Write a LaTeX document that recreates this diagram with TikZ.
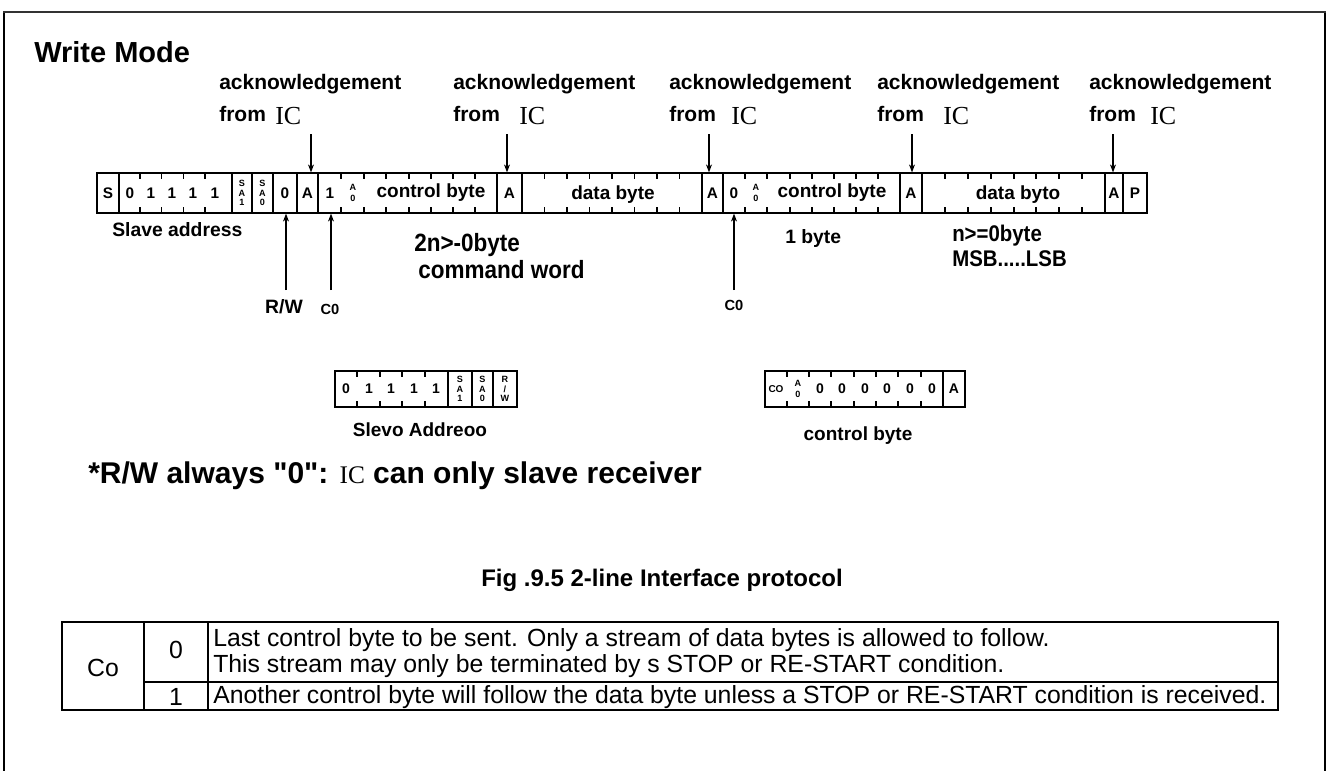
\documentclass[tikz,border=0pt]{standalone}
\usepackage{fontspec}
\setmainfont{Liberation Sans}
\newfontfamily\icfont{Liberation Serif}
\newfontfamily\plainfont{Liberation Sans}
\newfontfamily\narrowfont[FakeStretch=0.9]{Liberation Sans}
\usetikzlibrary{arrows.meta}
\newcommand\rowcell[4]{\node[rowbox, minimum width={(#3-#2)*0.75pt}] (#1) at ({(#2+#3)/2},193) {#4};}
\newcommand\lowcell[4]{\node[lowbox, minimum width={(#3-#2)*0.75pt}] (#1) at ({(#2+#3)/2},389) {#4};}
\newcommand\tks[3]{\foreach \t in {#1}{\draw[tick] (\t,#2) -- (\t,#2+6); \draw[tick] (\t,#3) -- (\t,#3-6);}}
\tikzset{
  rowbox/.style={draw, line width=0.9pt, minimum height=30pt, inner sep=0pt, font=\bfseries\fontsize{11.5}{12}\selectfont},
  lowbox/.style={draw, line width=0.9pt, minimum height=27pt, inner sep=0pt, font=\bfseries\fontsize{10.5}{11}\selectfont},
  celltxt/.style={inner sep=0pt, font=\bfseries\fontsize{11.5}{12}\selectfont},
  stk/.style={inner sep=0pt, align=center, font=\bfseries\fontsize{6.8}{7.3}\selectfont},
  bytetxt/.style={inner sep=0pt, font=\bfseries\fontsize{14.25}{16}\selectfont},
  acktxt/.style={inner sep=0pt, anchor=base west, font=\bfseries\fontsize{15.75}{18}\selectfont},
  ictxt/.style={inner sep=0pt, anchor=base west, font=\icfont\fontsize{19.5}{22}\selectfont},
  lbl/.style={inner sep=0pt, font=\bfseries\fontsize{14.5}{16}\selectfont},
  smalllbl/.style={inner sep=0pt, font=\bfseries\fontsize{11}{12}\selectfont},
  big/.style={inner sep=0pt, anchor=west, font=\narrowfont\bfseries\fontsize{18.75}{20}\selectfont},
  bigs/.style={inner sep=0pt, anchor=west, font=\narrowfont\bfseries\fontsize{17}{18}\selectfont},
  tick/.style={line width=0.8pt},
  arr/.style={line width=0.8pt, -{Stealth[length=6pt,width=4.5pt]}},
  tbltxt/.style={inner sep=0pt, anchor=west, font=\fontsize{18.6}{20}\selectfont},
}
\begin{document}
\begin{tikzpicture}[x=0.75pt,y=-0.75pt]
\useasboundingbox (0,0) rectangle (1329,771);
% frame
\draw[line width=1.1pt] (4,771) -- (4,12) -- (1325,12) -- (1325,771);
\draw[line width=1.8pt, black!80] (3,12) -- (1326,12);
\node[inner sep=0pt, anchor=base west, font=\bfseries\fontsize{21.75}{24}\selectfont] (title) at (34,62) {Write Mode};

% acknowledgement labels
\foreach \ax/\ix/\arx/\n in {219/275/311/1, 453/519/507/2, 669/731/709/3, 877/943/912/4, 1089/1150/1113/5}{
  \node[acktxt] (ack\n) at (\ax,89) {acknowledgement};
  \node[acktxt] (from\n) at (\ax,121) {from};
  \node[ictxt] (ic\n) at (\ix,124) {IC};
  \coordinate (ackarr\n) at (\arx,134);
}

% main frame row
\rowcell{S}{97}{119}{S}
\rowcell{addr}{119}{232}{}
\foreach \x/\d [count=\k] in {130/0,151/1,172/1,193/1,215/1}{\node[celltxt] (ad\k) at (\x,193) {\d};}
\tks{140,161.7,183.3,205}{173}{213}
\rowcell{sa1}{232}{252}{}
\node[stk] (sa1t) at (242,193) {S\\A\\1};
\rowcell{sa0}{252}{273}{}
\node[stk] (sa0t) at (262.5,193) {S\\A\\0};
\rowcell{rw}{273}{297}{0}
\rowcell{ackA1}{297}{318}{A}
\rowcell{cbA}{318}{497}{}
\node[celltxt] (cbAc) at (330,193) {1};
\node[stk] (cbAa) at (353,193) {A\\[1pt]0};
\node[bytetxt] (cbAt) at (431,193) {control byte};
\tks{341,364,386,409,431,453,475}{173}{213}
\rowcell{ackA2}{497}{522}{A}
\rowcell{dbA}{522}{702}{}
\node[bytetxt] (dbAt) at (613,195) {data byte};
\tks{544.5,567,589.5,612,634.5,657,679.5}{173}{213}
\rowcell{ackA3}{702}{723}{A}
\rowcell{cbB}{723}{900}{}
\node[celltxt] (cbBc) at (734,193) {0};
\node[stk] (cbBa) at (756,193) {A\\[1pt]0};
\node[bytetxt] (cbBt) at (832,193) {control byte};
\tks{745,767,790,812,834,856,878}{173}{213}
\rowcell{ackA4}{900}{922}{A}
\rowcell{dbB}{922}{1105}{}
\node[bytetxt] (dbBt) at (1018,195) {data byto};
\tks{945,968,991,1014,1036,1059,1082}{173}{213}
\rowcell{ackA5}{1105}{1123}{A}
\rowcell{P}{1123}{1147}{P}
\draw[line width=1.6pt] (97,173) -- (97,213);

% ack arrows
\draw[arr] (ackarr1) -- (ackarr1 |- ackA1.north);
\draw[arr] (ackarr2) -- (ackarr2 |- ackA2.north);
\draw[arr, line width=1.5pt] (ackarr3) -- (ackarr3 |- ackA3.north);
\draw[arr] (ackarr4) -- (ackarr4 |- ackA4.north);
\draw[arr] (ackarr5) -- (ackarr5 |- ackA5.north);

% labels below row
\node[lbl, anchor=west] (slaveaddr) at (112,230) {Slave address};
\coordinate (rwbot) at (286,290);
\coordinate (c0bot) at (331,290);
\coordinate (c0bbot) at (734,290);
\draw[arr] (rwbot) -- (rwbot |- rw.south);
\draw[arr] (c0bot) -- (c0bot |- cbA.south);
\draw[arr] (c0bbot) -- (c0bbot |- cbB.south);
\node[lbl] (rwlbl) at (284,307) {R/W};
\node[smalllbl] (c0lbl) at (330,309) {C0};
\node[smalllbl] (c0blbl) at (734,305) {C0};
\node[big] (twon) at (414,245) {2n>-0byte};
\node[big] (cmdw) at (418,270) {command word};
\node[lbl, anchor=west] (onebyte) at (785,238) {1 byte};
\node[bigs] (nbyte) at (952,236) {n>=0byte};
\node[bigs] (msb) at (952,259) {MSB.....LSB};

% slave address box
\lowcell{saddr}{335}{448}{}
\foreach \x/\d [count=\k] in {346/0,369/1,391/1,414/1,436/1}{\node[celltxt, font=\bfseries\fontsize{10.5}{11}\selectfont] (sd\k) at (\x,389) {\d};}
\tks{357,380,402,425}{371}{407}
\lowcell{ssa1}{448}{472}{}
\node[stk] (ssa1t) at (460,389) {S\\A\\1};
\lowcell{ssa0}{472}{493}{}
\node[stk] (ssa0t) at (482.5,389) {S\\A\\0};
\lowcell{srw}{493}{517}{}
\node[stk] (srwt) at (505,389) {R\\/\\W};
\node[lbl, font=\bfseries\fontsize{14.25}{16}\selectfont] (saddrlbl) at (420,430) {Slevo Addreoo};

% control byte box
\lowcell{cbox}{765}{943}{}
\node[inner sep=0pt, font=\bfseries\fontsize{7.5}{8}\selectfont] (cco) at (776,389) {CO};
\node[stk] (cca) at (798,389) {A\\[1pt]0};
\foreach \x [count=\k] in {820,842,865,887,910,932}{\node[celltxt, font=\bfseries\fontsize{10.5}{11}\selectfont] (cz\k) at (\x,389) {0};}
\tks{787,809,831,854,876,898,921}{371}{407}
\lowcell{cA}{943}{965}{A}
\node[lbl, font=\bfseries\fontsize{14.25}{16}\selectfont] (cboxlbl) at (858,436) {control byte};

% note
\node[inner sep=0pt, anchor=west, font=\plainfont\bfseries\fontsize{22.5}{24}\selectfont] (note) at (88,476) {*R/W always "0": {\icfont\mdseries\fontsize{19}{20}\selectfont IC} can only slave receiver};

% caption
\node[inner sep=0pt, font=\bfseries\fontsize{18}{20}\selectfont] (cap) at (662,580) {Fig .9.5 2-line Interface protocol};

% table
\draw[line width=1.5pt] (62,622) rectangle (1278,710);
\draw[line width=1pt] (144,622) -- (144,710);
\draw[line width=1pt] (208,622) -- (208,710);
\draw[line width=1.5pt] (144,682) -- (1278,682);
\node[inner sep=0pt, font=\fontsize{18.6}{20}\selectfont] (co) at (103,668) {Co};
\node[inner sep=0pt, font=\fontsize{18.6}{20}\selectfont] (zero) at (176,650) {0};
\node[inner sep=0pt, font=\fontsize{18.6}{20}\selectfont] (one) at (176,697) {1};
\node[tbltxt] (t1) at (213,640) {Last control byte to be sent. Only a stream of data bytes is allowed to follow.};
\node[tbltxt] (t2) at (213,666) {This stream may only be terminated by s STOP or RE-START condition.};
\node[tbltxt] (t3) at (213,697) {Another control byte will follow the data byte unless a STOP or RE-START condition is received.};
\end{tikzpicture}
\end{document}
